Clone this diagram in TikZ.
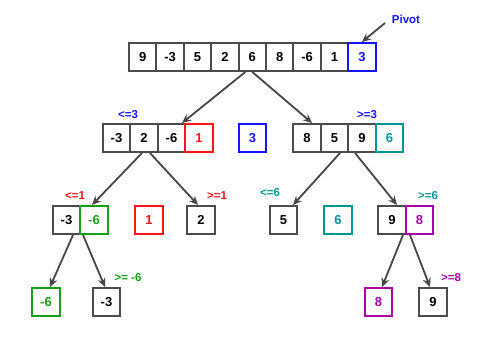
\documentclass[tikz,border=0pt]{standalone}
\usepackage{fontspec}
\setmainfont{Liberation Sans}[BoldFont={Liberation Sans Bold}]
\usetikzlibrary{arrows.meta}
\definecolor{boxgray}{RGB}{75,75,75}
\definecolor{arrgray}{RGB}{70,70,70}
\definecolor{pblue}{RGB}{20,20,255}
\definecolor{pred}{RGB}{255,20,20}
\definecolor{pgreen}{RGB}{20,160,20}
\definecolor{pteal}{RGB}{0,150,150}
\definecolor{ppurple}{RGB}{170,0,170}
\begin{document}
\begin{tikzpicture}[x=1pt,y=-1pt,
  cell/.style={draw=boxgray, line width=2pt, minimum width=27.5pt, minimum height=28pt,
    inner sep=0pt, text=black, font=\bfseries\fontsize{13}{15}\selectfont},
  lbl/.style={inner sep=0pt, font=\bfseries\fontsize{11.5}{13}\selectfont},
  arr/.style={draw=arrgray, line width=1.8pt, -{Stealth[length=9pt,width=8pt,inset=3pt]}}]
\useasboundingbox[fill=white] (0,0) rectangle (478,341);
% top row
\foreach \v [count=\i] in {9,-3,5,2,6,8,-6,1} {
  \node[cell] (t\i) at ({142.7+27.4*(\i-1)},57) {\v};
}
\node[cell, draw=pblue, text=pblue] (t9) at (361.9,57) {3};
\node[lbl, text=pblue] (pivot) at (406,19) {Pivot};
\coordinate (pivs) at (385,23);
\draw[arr] (pivs) -- ([xshift=0pt]t9.north);
% level 2
\node[cell] (l1) at (116.5,138) {-3};
\node[cell] (l2) at (144,138) {2};
\node[cell] (l3) at (171.5,138) {-6};
\node[cell, draw=pred, text=pred] (l4) at (199,138) {1};
\node[cell, draw=pblue, text=pblue] (p3) at (252.5,138) {3};
\node[cell] (r1) at (307,138) {8};
\node[cell] (r2) at (334.5,138) {5};
\node[cell] (r3) at (362,138) {9};
\node[cell, draw=pteal, text=pteal] (r4) at (389.5,138) {6};
\node[lbl, text=pblue] (lt3) at (128,115) {<=3};
\node[lbl, text=pblue] (gt3) at (367,115) {>=3};
\draw[arr] ([xshift=-7pt]t5.south) -- ([xshift=10.5pt]l3.north);
\draw[arr] ([xshift=0pt]t5.south) -- ([xshift=5pt]r1.north);
% level 3
\node[cell] (a1) at (66.5,220) {-3};
\node[cell, draw=pgreen, text=pgreen] (a2) at (94,220) {-6};
\node[cell, draw=pred, text=pred] (b) at (149,220) {1};
\node[cell] (c) at (201,220) {2};
\node[cell] (d) at (283.5,220) {5};
\node[cell, draw=pteal, text=pteal] (e) at (338,220) {6};
\node[cell] (f1) at (392,220) {9};
\node[cell, draw=ppurple, text=ppurple] (f2) at (419.5,220) {8};
\node[lbl, text=pred] (lt1) at (75,196) {<=1};
\node[lbl, text=pred] (gt1) at (217,196) {>=1};
\node[lbl, text=pteal] (lt6) at (270,193) {<=6};
\node[lbl, text=pteal] (gt6) at (428,196) {>=6};
\draw[arr] ([xshift=-2pt]l2.south) -- ([xshift=-2pt]a2.north);
\draw[arr] ([xshift=6pt]l2.south) -- ([xshift=-3pt]c.north);
\draw[arr] ([xshift=5.5pt]r2.south) -- ([xshift=9.5pt]d.north);
\draw[arr] ([xshift=-7pt]r3.south) -- ([xshift=5pt]f1.north);
% level 4
\node[cell, draw=pgreen, text=pgreen] (g) at (46,302) {-6};
\node[cell] (h) at (106.5,302) {-3};
\node[cell, draw=ppurple, text=ppurple] (i) at (378.5,302) {8};
\node[cell] (j) at (433,302) {9};
\node[lbl, text=pgreen] (gtm6) at (128,278) {>= -6};
\node[lbl, text=ppurple] (gt8) at (451,278) {>=8};
\draw[arr] ([xshift=6.5pt]a1.south) -- ([xshift=4pt]g.north);
\draw[arr] ([xshift=-11pt]a2.south) -- ([xshift=-1.5pt]h.north);
\draw[arr] ([xshift=11pt]f1.south) -- ([xshift=3.5pt]i.north);
\draw[arr] ([xshift=-9.5pt]f2.south) -- ([xshift=-3pt]j.north);
\end{tikzpicture}
\end{document}
